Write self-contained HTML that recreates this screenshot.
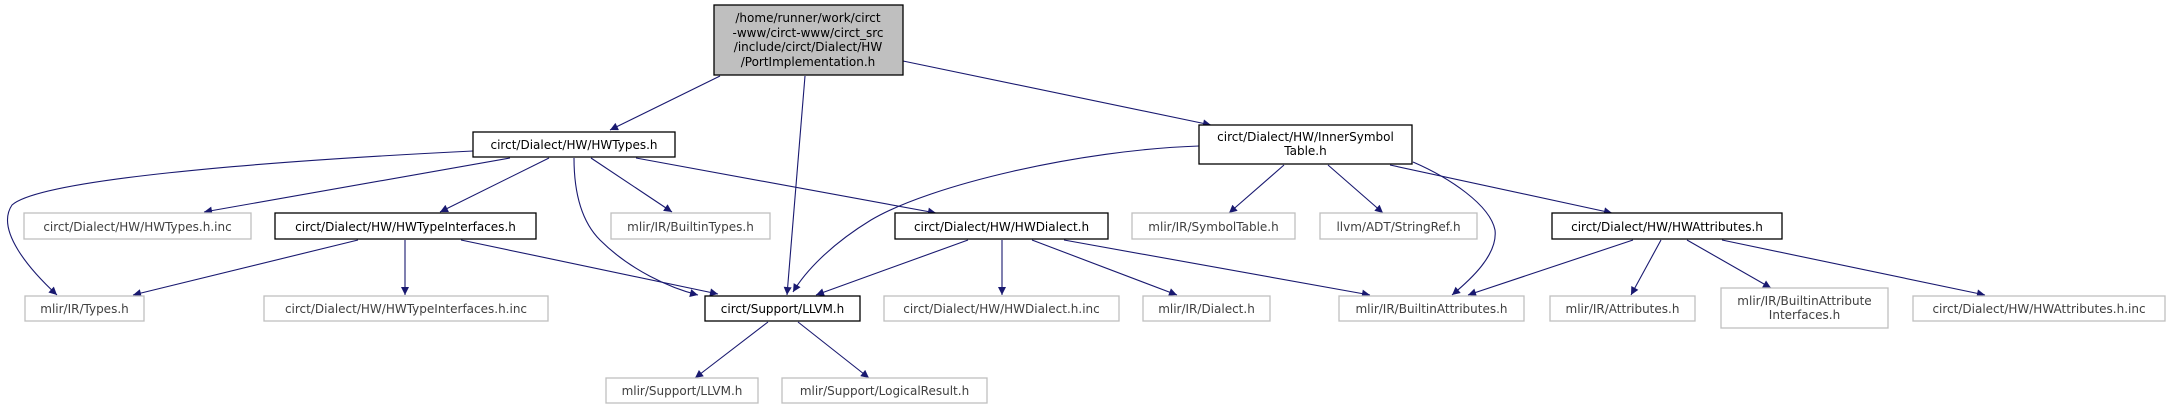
<!DOCTYPE html>
<html><head><meta charset="utf-8"><style>
html,body{margin:0;padding:0;background:#fff;}
svg{display:block;}
text{font-family:"DejaVu Sans","Liberation Sans",sans-serif;font-size:12px;fill:#000;}
.g{fill:#fff;stroke:#bfbfbf;stroke-width:1.3;}
.b{fill:#fff;stroke:#000;stroke-width:1.3;}
.e{fill:none;stroke:#191970;stroke-width:1.1;}
.gt{fill:#404040;}
</style></head><body>
<svg width="2171" height="409" viewBox="0 0 2171 409" xmlns="http://www.w3.org/2000/svg">
<defs><marker id="a" viewBox="0 0 10 10" refX="10" refY="5" markerWidth="10" markerHeight="8" markerUnits="userSpaceOnUse" orient="auto"><path d="M0,0 L10,5 L0,10 z" fill="#191970"/></marker></defs>
<g marker-end="url(#a)">
<path class="e" d="M720,76 L610,130"/>
<path class="e" d="M805,76 L787,295"/>
<path class="e" d="M903,61 L1211,125"/>
<path class="e" d="M473,151 C250,162 40,180 12,205 C-5,230 30,270 57,295"/>
<path class="e" d="M510,158 L204,212"/>
<path class="e" d="M549,158 L440,212"/>
<path class="e" d="M574,158 C574,200 585,225 600,240 C630,270 670,288 698,295"/>
<path class="e" d="M591,158 L672,212"/>
<path class="e" d="M636,158 L936,213"/>
<path class="e" d="M358,240 L133,295"/>
<path class="e" d="M405,240 L405,295"/>
<path class="e" d="M461,240 L718,294"/>
<path class="e" d="M1199,146 C1080,150 930,185 871,220 C830,245 805,272 793,292"/>
<path class="e" d="M1284,165 L1229,213"/>
<path class="e" d="M1328,165 L1383,213"/>
<path class="e" d="M1413,162 C1450,178 1490,205 1495,230 C1498,255 1470,280 1452,295"/>
<path class="e" d="M1390,165 L1612,213"/>
<path class="e" d="M968,240 L816,295"/>
<path class="e" d="M1002,240 L1002,295"/>
<path class="e" d="M1032,240 L1177,295"/>
<path class="e" d="M1064,240 L1370,295"/>
<path class="e" d="M768,322 L695,378"/>
<path class="e" d="M798,322 L869,378"/>
<path class="e" d="M1633,240 L1468,295"/>
<path class="e" d="M1661,240 L1631,295"/>
<path class="e" d="M1687,240 L1771,288"/>
<path class="e" d="M1722,240 L1985,295"/>
</g>

<rect x="714" y="5" width="189" height="70" fill="#bfbfbf" stroke="#000" stroke-width="1.3"/>
<text x="808" y="22" text-anchor="middle">/home/runner/work/circt</text>
<text x="808" y="37" text-anchor="middle">-www/circt-www/circt_src</text>
<text x="808" y="51" text-anchor="middle">/include/circt/Dialect/HW</text>
<text x="808" y="66" text-anchor="middle">/PortImplementation.h</text>

<rect class="b" x="473" y="132" width="202" height="25"/>
<text x="574" y="149" text-anchor="middle">circt/Dialect/HW/HWTypes.h</text>

<rect class="b" x="1199" y="125" width="213" height="39"/>
<text x="1305.5" y="141" text-anchor="middle">circt/Dialect/HW/InnerSymbol</text>
<text x="1305.5" y="155" text-anchor="middle">Table.h</text>

<rect class="g" x="24" y="213" width="227" height="26"/>
<text class="gt" x="137.5" y="231" text-anchor="middle">circt/Dialect/HW/HWTypes.h.inc</text>

<rect class="b" x="275" y="213" width="261" height="26"/>
<text x="405.5" y="231" text-anchor="middle">circt/Dialect/HW/HWTypeInterfaces.h</text>

<rect class="g" x="611" y="213" width="159" height="26"/>
<text class="gt" x="690.5" y="231" text-anchor="middle">mlir/IR/BuiltinTypes.h</text>

<rect class="b" x="895" y="213" width="213" height="26"/>
<text x="1001.5" y="231" text-anchor="middle">circt/Dialect/HW/HWDialect.h</text>

<rect class="g" x="1132" y="213" width="163" height="26"/>
<text class="gt" x="1213.5" y="231" text-anchor="middle">mlir/IR/SymbolTable.h</text>

<rect class="g" x="1320" y="213" width="157" height="26"/>
<text class="gt" x="1398.5" y="231" text-anchor="middle">llvm/ADT/StringRef.h</text>

<rect class="b" x="1552" y="213" width="230" height="26"/>
<text x="1667" y="231" text-anchor="middle">circt/Dialect/HW/HWAttributes.h</text>

<rect class="g" x="25" y="296" width="119" height="25"/>
<text class="gt" x="84.5" y="313" text-anchor="middle">mlir/IR/Types.h</text>

<rect class="g" x="264" y="296" width="284" height="25"/>
<text class="gt" x="406" y="313" text-anchor="middle">circt/Dialect/HW/HWTypeInterfaces.h.inc</text>

<rect class="b" x="705" y="296" width="155" height="25"/>
<text x="782.5" y="313" text-anchor="middle">circt/Support/LLVM.h</text>

<rect class="g" x="884" y="296" width="235" height="25"/>
<text class="gt" x="1001.5" y="313" text-anchor="middle">circt/Dialect/HW/HWDialect.h.inc</text>

<rect class="g" x="1143" y="296" width="127" height="25"/>
<text class="gt" x="1206.5" y="313" text-anchor="middle">mlir/IR/Dialect.h</text>

<rect class="g" x="1339" y="296" width="185" height="25"/>
<text class="gt" x="1431.5" y="313" text-anchor="middle">mlir/IR/BuiltinAttributes.h</text>

<rect class="g" x="1550" y="296" width="145" height="25"/>
<text class="gt" x="1622.5" y="313" text-anchor="middle">mlir/IR/Attributes.h</text>

<rect class="g" x="1721" y="288" width="167" height="40"/>
<text class="gt" x="1804.5" y="305" text-anchor="middle">mlir/IR/BuiltinAttribute</text>
<text class="gt" x="1804.5" y="319" text-anchor="middle">Interfaces.h</text>

<rect class="g" x="1913" y="296" width="252" height="25"/>
<text class="gt" x="2039" y="313" text-anchor="middle">circt/Dialect/HW/HWAttributes.h.inc</text>

<rect class="g" x="606" y="378" width="152" height="25"/>
<text class="gt" x="682" y="395" text-anchor="middle">mlir/Support/LLVM.h</text>

<rect class="g" x="782" y="378" width="205" height="25"/>
<text class="gt" x="884.5" y="395" text-anchor="middle">mlir/Support/LogicalResult.h</text>
</svg>
</body></html>
